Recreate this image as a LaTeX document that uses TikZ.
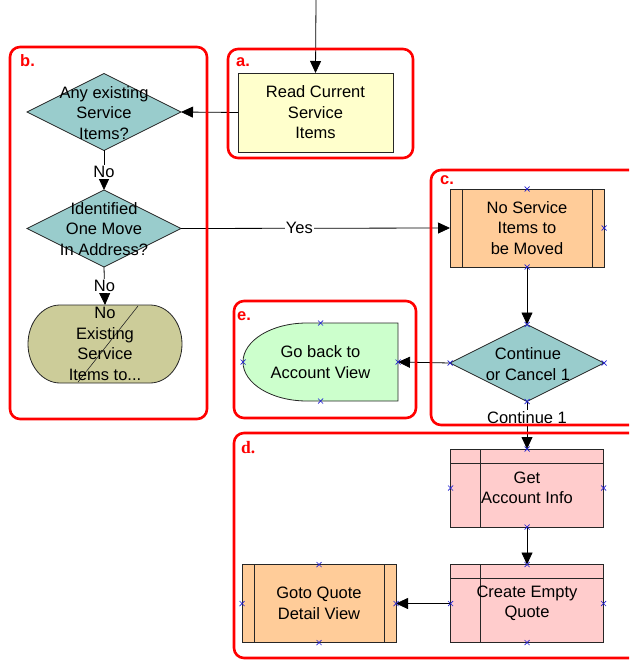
\documentclass[tikz,border=0pt]{standalone}
\usepackage{fontspec}
\setmainfont{Liberation Sans}
\newfontfamily\tagserif{Liberation Serif}
\usetikzlibrary{shapes.geometric,arrows.meta,calc}

\definecolor{readfill}{HTML}{FFFFCC}
\definecolor{decfill}{HTML}{99CCCC}
\definecolor{endfill}{HTML}{CCCC99}
\definecolor{subfill}{HTML}{FFCC99}
\definecolor{backfill}{HTML}{CCFFCC}
\definecolor{taskfill}{HTML}{FFCCCC}
\definecolor{grpred}{HTML}{FF0000}
\definecolor{mkblue}{HTML}{2020D0}

\begin{document}
\begin{tikzpicture}[x=1pt,y=-1pt,
  every node/.style={font=\fontsize{16.5}{20.5}\selectfont},
  txt/.style={align=center, inner sep=0pt, outer sep=0pt},
  outline/.style={draw=black!85, line width=0.8pt},
  readbox/.style={outline, fill=readfill, minimum width=155pt, minimum height=79pt, inner sep=0pt, outer sep=0pt, align=center},
  decision/.style={outline, fill=decfill, diamond, minimum width=154pt, minimum height=77pt, inner sep=0pt, outer sep=0pt},
  subproc/.style={outline, fill=subfill, minimum width=154pt, minimum height=78pt, inner sep=0pt, outer sep=0pt, align=center,
    path picture={\draw[outline] ([xshift=12pt]path picture bounding box.north west) -- ([xshift=12pt]path picture bounding box.south west);
                  \draw[outline] ([xshift=-12pt]path picture bounding box.north east) -- ([xshift=-12pt]path picture bounding box.south east);}},
  task/.style={outline, fill=taskfill, minimum width=153pt, minimum height=78pt, inner sep=0pt, outer sep=0pt, align=center,
    path picture={\draw[outline] ([xshift=30pt]path picture bounding box.north west) -- ([xshift=30pt]path picture bounding box.south west);
                  \draw[outline] ([yshift=-14pt]path picture bounding box.north west) -- ([yshift=-14pt]path picture bounding box.north east);}},
  frame/.style={minimum width=155pt, minimum height=78pt, inner sep=0pt, outer sep=0pt, align=center},
  flow/.style={draw=black, line width=0.8pt, -{Triangle[length=12pt,width=11pt]}},
  edgelabel/.style={fill=white, inner sep=1pt},
  group/.style={draw=grpred, line width=2.6pt, rounded corners=10pt},
  tag/.style={anchor=west, text=grpred, inner sep=0pt, font=\fontsize{16.5}{18}\selectfont\bfseries},
  marker/.style={draw=mkblue, line width=0.7pt}
]
\useasboundingbox (0,0) rectangle (629,660);
\clip (0,0) rectangle (629,660);

% ---- process steps ----
\node[readbox] (rcs) at (315.5,112.5) {Read Current\\Service\\Items};

\node[decision] (d1) at (104,112) {};
\node[txt] (d1t) at (104,113) {Any existing\\Service\\Items?};

\node[decision] (d2) at (104,228.5) {};
\node[txt] (d2t) at (104,229) {Identified\\One Move\\In Address?};

% terminal with elliptic ends and a strike-through
\path[outline, fill=endfill] (60,305) -- (150,305)
  arc[start angle=90, end angle=-90, x radius=32pt, y radius=39pt] -- (60,383)
  arc[start angle=270, end angle=90, x radius=32pt, y radius=39pt] -- cycle;
\draw[black!85, line width=0.6pt] (138,306) -- (78,382);
\node[frame] (term) at (105,344) {No\\Existing\\Service\\Items to...};

\node[subproc] (ns) at (527,228) {No Service\\Items to\\be Moved};

\node[decision] (d3) at (527,363) {};
\node[txt] (d3t) at (528,364) {Continue\\or Cancel 1};

% return step: rounded left side
\path[outline, fill=backfill] (398,323) -- (307,323)
  arc[start angle=90, end angle=270, x radius=64pt, y radius=39pt] -- (398,401) -- cycle;
\node[frame] (gob) at (320.5,362) {Go back to\\Account View};

\node[task] (gai) at (527,488) {Get\\Account Info};
\node[task] (ceq) at (527,603.5) {Create Empty\\Quote};
\node[subproc] (gqd) at (319,603.5) {Goto Quote\\Detail View};

% ---- connectors ----
\coordinate (entry) at (316,0);
\draw[flow] (entry) -- (rcs.north);
\draw[flow] (rcs.west) -- (d1.east);
\draw[flow] (d1.south) -- node[edgelabel, pos=0.55] {No} (d2.north);
\draw[flow] (d2.south) -- node[edgelabel, pos=0.5] {No} (term.north);
\draw[flow] (d2.east) -- node[edgelabel, pos=0.44] {Yes} (ns.west);
\draw[flow] (ns.south) -- (d3.north);
\draw[flow] (d3.west) -- (gob.east);
\draw[flow] (d3.south) -- node[edgelabel, pos=0.33] {Continue 1} (gai.north);
\draw[flow] (gai.south) -- (ceq.north);
\draw[flow] (ceq.west) -- (gqd.east);

% ---- groups ----
\draw[group] (228,49) rectangle (413,158);
\draw[group] (10,47) rectangle (207,419);
\draw[group] (431,170) rectangle (670,425);
\draw[group] (234,433) rectangle (670,658);
\draw[group] (234,301) rectangle (416,418);

\node[tag] (ta) at (236,62) {a.};
\node[tag] (tb) at (20,61) {b.};
\node[tag] (tc) at (440,180) {c.};
\node[tag, font=\fontsize{17.5}{18}\selectfont\tagserif\bfseries] (td) at (241,448) {d.};
\node[tag] (te) at (237,316) {e.};

% ---- connection point markers ----
\foreach \p in {ns.north, ns.south, ns.east,
                d3.north, d3.south, d3.east, d3.west,
                gob.north, gob.south, gob.west, gob.east,
                gai.north, gai.south, gai.west, gai.east,
                ceq.north, ceq.south, ceq.west, ceq.east,
                gqd.north, gqd.south, gqd.west, gqd.east}
  \draw[marker] ([shift={(-2.5,-2.5)}]\p) -- ([shift={(2.5,2.5)}]\p)
                ([shift={(-2.5,2.5)}]\p) -- ([shift={(2.5,-2.5)}]\p);
\end{tikzpicture}
\end{document}
